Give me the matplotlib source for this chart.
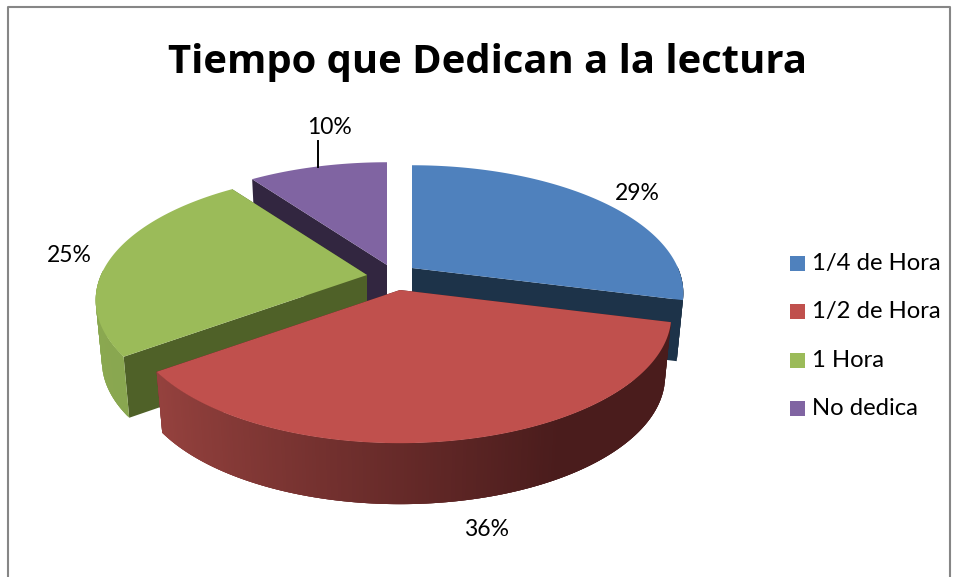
import numpy as np
import matplotlib
matplotlib.use("Agg")
import matplotlib.pyplot as plt
from matplotlib.colors import to_rgb

title = "Tiempo que Dedican a la lectura"
categories = ["1/4 de Hora", "1/2 de Hora", "1 Hora", "No dedica"]
values = [29, 36, 25, 10]
colors = ["#4F81BD", "#C0504D", "#9BBB59", "#8064A2"]
cut_colors = ["#1D3349", "#4A1E1C", "#4F6128", "#322640"]
wall_left = ["#1D3349", "#A04743", "#8AA850", "#322640"]
wall_right = ["#1D3349", "#4A1C1C", "#84A04E", "#322640"]
apexes = [(412, 268), (400, 290), (367, 275), (387, 265)]
label_pos = [(637, 194), (487, 529), (69, 255), (329, 128)]

W, H = 955, 577
R, Hy, K, DEPTH, TAPER = 266, 123, 0.197, 61, 0.977

fig = plt.figure(figsize=(W / 100, H / 100), dpi=100)
ax = fig.add_axes([0, 0, 1, 1])
ax.set_xlim(0, W)
ax.set_ylim(H, 0)
ax.axis("off")
plt.rcParams["font.family"] = ["Open Sans", "DejaVu Sans"]


def proj(theta, apex):
    u, v = np.sin(theta), np.cos(theta)
    s = 1 / (1 + K * v)
    return apex[0] + R * u * s, apex[1] - Hy * v * s


def low(x, y, apex):
    return apex[0] + (x - apex[0]) * TAPER, y + DEPTH


def mix(a, b, t):
    a, b = np.array(to_rgb(a)), np.array(to_rgb(b))
    return tuple(a + (b - a) * t)


edges = np.deg2rad(np.concatenate([[0], np.cumsum(values)]) * 3.6)
spans = [(edges[i], edges[i + 1]) for i in range(len(values))]


def draw_slice(i):
    a, b = spans[i]
    ap = apexes[i]
    th = np.linspace(a, b, 200)
    x, y = proj(th, ap)
    lx, ly = low(x, y, ap)
    for t in (a, b):
        ex, ey = proj(t, ap)
        bx, by = low(ex, ey, ap)
        ax.fill([ap[0], ex, bx, ap[0]], [ap[1], ey, by, ap[1] + DEPTH],
                color=cut_colors[i], lw=0)
    for j in range(len(th) - 1):
        if np.cos(th[j]) > 0.02:
            continue
        t = np.clip((np.sin(th[j]) + 1) / 1.5, 0, 1)
        c = mix(wall_left[i], wall_right[i], t)
        k = min(j + 3, len(th) - 1)
        ax.fill([x[j], x[k], lx[k], lx[j]], [y[j], y[k], ly[k], ly[j]], color=c, lw=0)
    ax.fill(np.r_[ap[0], x], np.r_[ap[1], y], color=colors[i], lw=0)


for i in [3, 0, 2, 1]:
    draw_slice(i)

ax.plot([7.5, 7.5, 950, 950], [577, 7, 7, 577], color="#868686", lw=1.5)

ax.text(487, 62, title, ha="center", va="center", fontsize=28.8, fontweight="bold", color="black")

for p, v in zip(label_pos, values):
    ax.text(p[0], p[1], f"{v}%", ha="center", va="center", fontsize=16.5, color="black", family="Lato")
ax.plot([318, 318], [141, 167], color="black", lw=1.4)

for i, (c, name) in enumerate(zip(colors, categories)):
    yy = 263.5 + i * 48.3
    ax.add_patch(plt.Rectangle((790, yy - 7.5), 15, 15, color=c, lw=0))
    ax.text(812, yy, name, ha="left", va="center", fontsize=17.2, color="black", family="Lato")

fig.savefig("out.png", dpi=100)
